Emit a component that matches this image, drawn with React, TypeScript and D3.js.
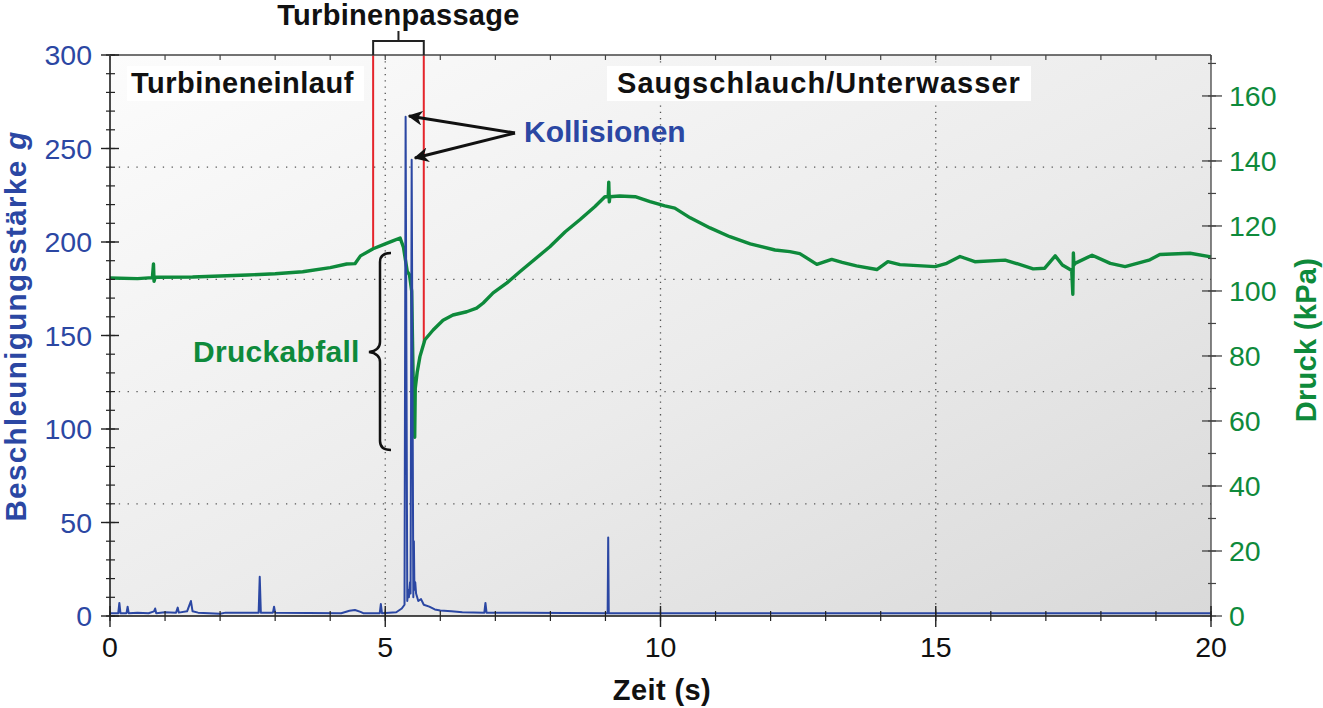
import React from 'react';
import * as d3 from 'd3';

// ---------- data ----------
const xTicks = [0, 5, 10, 15, 20];
const xMinorTicks = d3.range(0, 21, 1);
const leftTicks = [0, 50, 100, 150, 200, 250, 300];
const leftMinorTicks = d3.range(0, 301, 10);
const rightTicks = [0, 20, 40, 60, 80, 100, 120, 140, 160];
const rightMinorTicks = d3.range(0, 171, 10);
const hGridG = [60, 120, 180, 240];
const vGridT = [5, 10, 15];

// pressure (kPa) over time (s)
const greenT = [0, 0.5, 0.77, 0.79, 0.8, 0.82, 1.5, 2.5, 3.0, 3.5, 4.0, 4.3, 4.45, 4.55, 4.78, 5.0, 5.15, 5.27, 5.33, 5.4, 5.44, 5.48, 5.5, 5.52, 5.535, 5.545, 5.58, 5.63, 5.72, 5.87, 6.05, 6.23, 6.48, 6.66, 6.78, 6.96, 7.21, 7.45, 7.99, 8.27, 8.54, 8.81, 8.99, 9.05, 9.06, 9.07, 9.08, 9.26, 9.54, 9.81, 10.08, 10.26, 10.54, 10.9, 11.26, 11.63, 12.08, 12.35, 12.53, 12.84, 13.11, 13.3, 13.56, 13.93, 14.13, 14.35, 14.99, 15.2, 15.44, 15.71, 16.26, 16.44, 16.77, 16.98, 17.17, 17.3, 17.47, 17.49, 17.5, 17.51, 17.53, 17.84, 18.17, 18.44, 18.89, 19.07, 19.62, 20];
const greenP = [104.0, 103.8, 104.1, 108.3, 103.0, 104.2, 104.3, 104.9, 105.3, 105.9, 107.2, 108.3, 108.4, 110.8, 113.0, 114.5, 115.5, 116.3, 113.5, 106, 105, 100, 80, 60, 55, 70, 75, 79.8, 85, 88, 91, 92.6, 93.6, 94.7, 96.3, 99.4, 102.5, 106, 113.6, 118.2, 122, 126, 129, 129, 133.5, 127.4, 129, 129.2, 129, 127.5, 126.2, 125.5, 122.5, 119.4, 116.7, 114.5, 112.6, 112.1, 111.5, 108.2, 109.7, 108.8, 107.7, 106.6, 109.0, 108.1, 107.5, 108.5, 110.6, 109, 109.5, 108.6, 106.8, 107.0, 110.8, 108, 106.3, 99, 111.7, 108, 108.5, 111, 108.5, 107.5, 109.6, 111.2, 111.6, 110.5];

// acceleration (g) over time (s)
const blueT = [0, 0.15, 0.17, 0.19, 0.3, 0.32, 0.34, 0.5, 0.7, 0.8, 0.82, 0.84, 1.0, 1.2, 1.23, 1.25, 1.4, 1.47, 1.5, 1.6, 2.0, 2.1, 2.7, 2.72, 2.74, 2.96, 2.98, 3.0, 4.2, 4.35, 4.45, 4.55, 4.6, 4.9, 4.92, 4.94, 5.2, 5.3, 5.35, 5.37, 5.4, 5.415, 5.43, 5.45, 5.46, 5.48, 5.51, 5.52, 5.53, 5.545, 5.56, 5.6, 5.65, 5.7, 5.8, 5.9, 6.0, 6.2, 6.4, 6.8, 6.82, 6.84, 7.5, 9.04, 9.05, 9.06, 10, 12, 15, 17, 20];
const blueG = [1.5, 1.5, 7, 1.5, 1.5, 5, 1.5, 1.8, 1.5, 2.5, 4, 1.5, 2, 1.8, 4.5, 1.8, 2.5, 8, 2.5, 1.8, 1.2, 1.8, 1.8, 21, 1.8, 1.8, 5, 1.8, 1.5, 2.8, 3.2, 2.2, 1.5, 1.5, 6.4, 1.5, 2, 4, 6, 267, 8, 14, 10, 18, 12, 244, 10, 40, 14, 18, 12, 8, 9, 6, 5, 3.5, 3, 2.5, 2, 1.8, 7, 1.8, 1.8, 1.5, 42, 1.5, 1.5, 1.5, 1.5, 1.5, 1.5];

// turbine passage bounds (s) and pressure where the red markers end (kPa)
const passageT = [4.78, 5.7];
const passageEndP = [113.0, 84.3];

// ---------- layout ----------
const W = 1323, H = 708;
const L = 110, R = 1211, T = 55, B = 616;
const FONT = '"Liberation Sans", Arial, Helvetica, sans-serif';
const BLUE = '#2b47a3';
const GREEN = '#0e8a3b';
const RED = '#e5242b';

export default function App() {
  const x = d3.scaleLinear().domain([0, 20]).range([L, R]);
  const yL = d3.scaleLinear().domain([0, 300]).range([B, T]);
  const yR = d3.scaleLinear().domain([0, 172.6]).range([B, T]);

  const greenLine = d3.line<number>().x((_, i) => x(greenT[i])).y((d) => yR(d))(greenP) || '';
  const blueLine = d3.line<number>().x((_, i) => x(blueT[i])).y((d) => yL(d))(blueG) || '';

  const bx0 = x(passageT[0]), bx1 = x(passageT[1]);
  const bxm = (bx0 + bx1) / 2;

  return (
    <svg width={W} height={H} style={{ position: 'absolute', left: 0, top: 0, background: '#fff' }} fontFamily={FONT}>
      <defs>
        <linearGradient id="bg" x1="0" y1="0" x2="1" y2="1">
          <stop offset="0" stopColor="#fcfcfc" />
          <stop offset="0.55" stopColor="#ebebeb" />
          <stop offset="1" stopColor="#d9d9d9" />
        </linearGradient>
        <marker id="ah" viewBox="0 0 10 10" refX="9" refY="5" markerWidth="5" markerHeight="5" orient="auto">
          <path d="M0,0 L10,5 L0,10 L3,5 Z" fill="#111" />
        </marker>
      </defs>

      <rect x={L} y={T} width={R - L} height={B - T} fill="url(#bg)" />

      {/* grid */}
      {hGridG.map((g) => (
        <line key={'hg' + g} x1={L} x2={R} y1={yL(g)} y2={yL(g)} stroke="#555" strokeWidth={1.3} strokeDasharray="1.3 7.5" />
      ))}
      {vGridT.map((t) => (
        <line key={'vg' + t} x1={x(t)} x2={x(t)} y1={T} y2={B} stroke="#555" strokeWidth={1.3} strokeDasharray="1.3 5" />
      ))}

      {/* label boxes */}
      <rect x={127} y={66} width={237} height={35} fill="#fff" />
      <rect x={607} y={66} width={424} height={35} fill="#fff" />
      <text x={131} y={93} fontSize={29} fontWeight="bold" fill="#111" letterSpacing={0.5}>Turbineneinlauf</text>
      <text x={617} y={93} fontSize={29} fontWeight="bold" fill="#111" letterSpacing={1.05}>Saugschlauch/Unterwasser</text>

      {/* red passage markers */}
      {passageT.map((t, i) => (
        <line key={'red' + i} x1={x(t)} x2={x(t)} y1={T} y2={yR(passageEndP[i])} stroke={RED} strokeWidth={2} />
      ))}

      {/* data */}
      <path d={greenLine} fill="none" stroke={GREEN} strokeWidth={3.4} strokeLinejoin="round" />
      <path d={blueLine} fill="none" stroke={BLUE} strokeWidth={2} strokeLinejoin="round" />

      {/* frame */}
      <line x1={L} x2={R} y1={T} y2={T} stroke="#444" strokeWidth={1.3} />
      <line x1={R} x2={R} y1={T} y2={B} stroke="#444" strokeWidth={1.3} />
      <line x1={L} x2={L} y1={T} y2={B} stroke="#111" strokeWidth={1.5} />
      <line x1={L} x2={R} y1={B} y2={B} stroke="#111" strokeWidth={1.5} />

      {/* left axis ticks */}
      {leftMinorTicks.map((g) => (
        <line key={'lm' + g} x1={L - 4} x2={L + 5} y1={yL(g)} y2={yL(g)} stroke="#222" strokeWidth={1.2} />
      ))}
      {leftTicks.map((g) => (
        <line key={'lM' + g} x1={L - 9} x2={L + 9} y1={yL(g)} y2={yL(g)} stroke="#222" strokeWidth={1.4} />
      ))}
      {leftTicks.map((g) => (
        <text key={'lt' + g} x={92} y={yL(g) + 10} fontSize={28.5} fill={BLUE} textAnchor="end">{g}</text>
      ))}

      {/* right axis ticks */}
      {rightMinorTicks.map((p) => (
        <line key={'rm' + p} x1={R - 3} x2={R + 5} y1={yR(p)} y2={yR(p)} stroke="#444" strokeWidth={1.2} />
      ))}
      {rightTicks.map((p) => (
        <line key={'rM' + p} x1={R - 9} x2={R + 11} y1={yR(p)} y2={yR(p)} stroke="#444" strokeWidth={1.3} />
      ))}
      {rightTicks.map((p) => (
        <text key={'rt' + p} x={1229} y={yR(p) + 10} fontSize={28.5} fill={GREEN}>{p}</text>
      ))}

      {/* bottom/top axis ticks */}
      {xMinorTicks.map((t) => (
        <g key={'xm' + t}>
          <line x1={x(t)} x2={x(t)} y1={B - 5} y2={B + 5} stroke="#222" strokeWidth={1.2} />
          <line x1={x(t)} x2={x(t)} y1={T} y2={T + 5} stroke="#444" strokeWidth={1.2} />
        </g>
      ))}
      {xTicks.map((t) => (
        <line key={'xM' + t} x1={x(t)} x2={x(t)} y1={B - 10} y2={B + 11} stroke="#222" strokeWidth={1.4} />
      ))}
      {xTicks.map((t) => (
        <text key={'xt' + t} x={x(t)} y={657} fontSize={28.5} fill="#111" textAnchor="middle">{t}</text>
      ))}

      {/* axis titles */}
      <text x={662} y={700} fontSize={29} fontWeight="bold" fill="#111" textAnchor="middle" letterSpacing={0.4}>Zeit (s)</text>
      <text transform="translate(26,326) rotate(-90)" fontSize={29.5} fontWeight="bold" fill={BLUE} textAnchor="middle" letterSpacing={1.4}>
        Beschleunigungsstärke <tspan fontStyle="italic">g</tspan>
      </text>
      <text transform="translate(1316,340) rotate(-90)" fontSize={29} fontWeight="bold" fill={GREEN} textAnchor="middle" letterSpacing={0.3}>Druck (kPa)</text>

      {/* Turbinenpassage bracket */}
      <text x={bxm} y={25} fontSize={29} fontWeight="bold" fill="#111" textAnchor="middle" letterSpacing={0.3}>Turbinenpassage</text>
      <path d={`M${bx0},${T} V41 H${bx1} V${T} M${bxm},41 V31`} fill="none" stroke="#222" strokeWidth={2} />

      {/* Kollisionen annotation */}
      <text x={524} y={142} fontSize={30} fontWeight="bold" fill={BLUE}>Kollisionen</text>
      <line x1={515} x2={409} y1={133} y2={116} stroke="#111" strokeWidth={3} markerEnd="url(#ah)" />
      <line x1={515} x2={415} y1={133} y2={158} stroke="#111" strokeWidth={3} markerEnd="url(#ah)" />

      {/* Druckabfall annotation */}
      <text x={193} y={362} fontSize={30} fontWeight="bold" fill={GREEN} letterSpacing={0.3}>Druckabfall</text>
      <path d="M391,253 C384,253 380,256 380,262 L380,342 C380,348 376,351 369,352 C376,353 380,356 380,362 L380,441 C380,447 384,450 391,450"
        fill="none" stroke="#111" strokeWidth={2.5} />
    </svg>
  );
}
